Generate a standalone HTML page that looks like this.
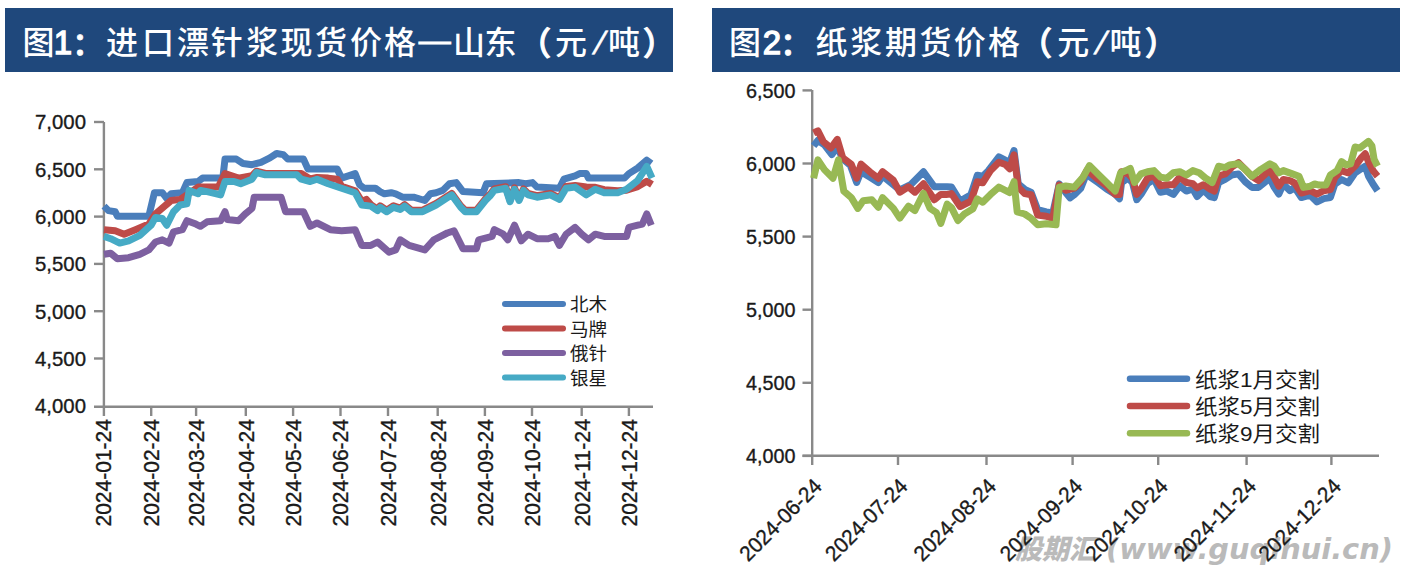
<!DOCTYPE html>
<html><head><meta charset="utf-8"><title>chart</title>
<style>
html,body{margin:0;padding:0;background:#fff;width:1412px;height:580px;overflow:hidden}
svg{display:block}
.t{font-family:"Liberation Sans","Noto Sans CJK SC",sans-serif;fill:#fff;font-size:32px;font-weight:500}
.yl{font-family:"Liberation Sans",sans-serif;font-size:20.5px;fill:#1a1a1a;stroke:#1a1a1a;stroke-width:.35}
.xl{font-family:"Liberation Sans",sans-serif;font-size:21.5px;fill:#1a1a1a;stroke:#1a1a1a;stroke-width:.35}
.lg{font-family:"Liberation Sans","Noto Sans CJK SC",sans-serif;fill:#1a1a1a}
.wm{font-family:"DejaVu Sans","Noto Sans CJK SC",sans-serif;font-weight:900;font-style:italic;fill:#bababa}
</style></head><body>
<svg width="1412" height="580" viewBox="0 0 1412 580">

<rect x="5" y="8" width="668" height="64" fill="#1f487c"/>
<rect x="712" y="8" width="688" height="64" fill="#1f487c"/>
<text x="38.6" y="54" text-anchor="middle" class="t">图</text>
<text x="63.0" y="53.6" text-anchor="middle" class="t" style="font-size:33px;font-weight:400" stroke="#fff" stroke-width="1.3">1</text>
<text x="72.0" y="55" class="t" stroke="#fff" stroke-width="0.8">：</text>
<text x="122.0" y="54" text-anchor="middle" class="t">进</text>
<text x="158.0" y="54" text-anchor="middle" class="t">口</text>
<text x="193.0" y="54" text-anchor="middle" class="t">漂</text>
<text x="226.8" y="54" text-anchor="middle" class="t">针</text>
<text x="262.2" y="54" text-anchor="middle" class="t">浆</text>
<text x="296.4" y="54" text-anchor="middle" class="t">现</text>
<text x="331.0" y="54" text-anchor="middle" class="t">货</text>
<text x="366.0" y="54" text-anchor="middle" class="t">价</text>
<text x="400.0" y="54" text-anchor="middle" class="t">格</text>
<text x="434.7" y="51" text-anchor="middle" class="t" stroke="#fff" stroke-width="0.9">—</text>
<text x="469.0" y="54" text-anchor="middle" class="t">山</text>
<text x="500.5" y="54" text-anchor="middle" class="t">东</text>
<text x="519.0" y="55" class="t" stroke="#fff" stroke-width="1.1">（</text>
<text x="571.0" y="54" text-anchor="middle" class="t">元</text>
<text transform="translate(596.5,54) skewX(-17)" text-anchor="middle" class="t" stroke="#fff" stroke-width="0.6">/</text>
<text x="624.0" y="54" text-anchor="middle" class="t">吨</text>
<text x="643.0" y="55" class="t" stroke="#fff" stroke-width="1.1">）</text>
<text x="745.0" y="54" text-anchor="middle" class="t">图</text>
<text x="772.0" y="53.6" text-anchor="middle" class="t" style="font-size:33px;font-weight:400" stroke="#fff" stroke-width="1.3">2</text>
<text x="780.0" y="55" class="t" stroke="#fff" stroke-width="0.8">：</text>
<text x="831.5" y="54" text-anchor="middle" class="t">纸</text>
<text x="866.3" y="54" text-anchor="middle" class="t">浆</text>
<text x="901.0" y="54" text-anchor="middle" class="t">期</text>
<text x="935.5" y="54" text-anchor="middle" class="t">货</text>
<text x="969.8" y="54" text-anchor="middle" class="t">价</text>
<text x="1004.0" y="54" text-anchor="middle" class="t">格</text>
<text x="1020.0" y="55" class="t" stroke="#fff" stroke-width="1.1">（</text>
<text x="1073.3" y="54" text-anchor="middle" class="t">元</text>
<text transform="translate(1098.0,54) skewX(-17)" text-anchor="middle" class="t" stroke="#fff" stroke-width="0.6">/</text>
<text x="1125.5" y="54" text-anchor="middle" class="t">吨</text>
<text x="1145.0" y="55" class="t" stroke="#fff" stroke-width="1.1">）</text>
<g class="wm" font-size="27.5"><text x="1015" y="559" textLength="81" lengthAdjust="spacingAndGlyphs">股期汇</text><text x="1106" y="559" textLength="287" lengthAdjust="spacingAndGlyphs">(www.guqihui.cn)</text></g>
<g stroke="#898989" stroke-width="2.4" fill="none">
<line x1="103.9" y1="122" x2="103.9" y2="416"/>
<line x1="94" y1="406.7" x2="653" y2="406.7"/>
<line x1="94" y1="122.0" x2="104" y2="122.0"/>
<line x1="94" y1="169.3" x2="104" y2="169.3"/>
<line x1="94" y1="216.6" x2="104" y2="216.6"/>
<line x1="94" y1="263.9" x2="104" y2="263.9"/>
<line x1="94" y1="311.2" x2="104" y2="311.2"/>
<line x1="94" y1="358.5" x2="104" y2="358.5"/>
<line x1="151.2" y1="406" x2="151.2" y2="416"/>
<line x1="196.1" y1="406" x2="196.1" y2="416"/>
<line x1="245.8" y1="406" x2="245.8" y2="416"/>
<line x1="293.1" y1="406" x2="293.1" y2="416"/>
<line x1="340.5" y1="406" x2="340.5" y2="416"/>
<line x1="388" y1="406" x2="388" y2="416"/>
<line x1="437.7" y1="406" x2="437.7" y2="416"/>
<line x1="484.9" y1="406" x2="484.9" y2="416"/>
<line x1="532" y1="406" x2="532" y2="416"/>
<line x1="581.7" y1="406" x2="581.7" y2="416"/>
<line x1="628.9" y1="406" x2="628.9" y2="416"/>
</g>
<text x="35" y="129.2" textLength="51" lengthAdjust="spacingAndGlyphs" class="yl">7,000</text>
<text x="35" y="176.5" textLength="51" lengthAdjust="spacingAndGlyphs" class="yl">6,500</text>
<text x="35" y="223.9" textLength="51" lengthAdjust="spacingAndGlyphs" class="yl">6,000</text>
<text x="35" y="271.2" textLength="51" lengthAdjust="spacingAndGlyphs" class="yl">5,500</text>
<text x="35" y="318.5" textLength="51" lengthAdjust="spacingAndGlyphs" class="yl">5,000</text>
<text x="35" y="365.8" textLength="51" lengthAdjust="spacingAndGlyphs" class="yl">4,500</text>
<text x="35" y="413.2" textLength="51" lengthAdjust="spacingAndGlyphs" class="yl">4,000</text>
<text transform="translate(111.2,419) rotate(-90)" text-anchor="end" textLength="107.5" lengthAdjust="spacingAndGlyphs" class="xl">2024-01-24</text>
<text transform="translate(159.0,419) rotate(-90)" text-anchor="end" textLength="107.5" lengthAdjust="spacingAndGlyphs" class="xl">2024-02-24</text>
<text transform="translate(203.9,419) rotate(-90)" text-anchor="end" textLength="107.5" lengthAdjust="spacingAndGlyphs" class="xl">2024-03-24</text>
<text transform="translate(253.6,419) rotate(-90)" text-anchor="end" textLength="107.5" lengthAdjust="spacingAndGlyphs" class="xl">2024-04-24</text>
<text transform="translate(300.9,419) rotate(-90)" text-anchor="end" textLength="107.5" lengthAdjust="spacingAndGlyphs" class="xl">2024-05-24</text>
<text transform="translate(348.3,419) rotate(-90)" text-anchor="end" textLength="107.5" lengthAdjust="spacingAndGlyphs" class="xl">2024-06-24</text>
<text transform="translate(395.8,419) rotate(-90)" text-anchor="end" textLength="107.5" lengthAdjust="spacingAndGlyphs" class="xl">2024-07-24</text>
<text transform="translate(445.5,419) rotate(-90)" text-anchor="end" textLength="107.5" lengthAdjust="spacingAndGlyphs" class="xl">2024-08-24</text>
<text transform="translate(492.7,419) rotate(-90)" text-anchor="end" textLength="107.5" lengthAdjust="spacingAndGlyphs" class="xl">2024-09-24</text>
<text transform="translate(539.8,419) rotate(-90)" text-anchor="end" textLength="107.5" lengthAdjust="spacingAndGlyphs" class="xl">2024-10-24</text>
<text transform="translate(589.5,419) rotate(-90)" text-anchor="end" textLength="107.5" lengthAdjust="spacingAndGlyphs" class="xl">2024-11-24</text>
<text transform="translate(636.7,419) rotate(-90)" text-anchor="end" textLength="107.5" lengthAdjust="spacingAndGlyphs" class="xl">2024-12-24</text>
<g stroke="#898989" stroke-width="2.4" fill="none">
<line x1="812.2" y1="90" x2="812.2" y2="465"/>
<line x1="802.5" y1="455.8" x2="1379" y2="455.8"/>
<line x1="802.5" y1="90.4" x2="812" y2="90.4"/>
<line x1="802.5" y1="163.5" x2="812" y2="163.5"/>
<line x1="802.5" y1="236.6" x2="812" y2="236.6"/>
<line x1="802.5" y1="309.7" x2="812" y2="309.7"/>
<line x1="802.5" y1="382.8" x2="812" y2="382.8"/>
<line x1="802.5" y1="455.9" x2="812" y2="455.9"/>
<line x1="898" y1="455" x2="898" y2="465"/>
<line x1="986.5" y1="455" x2="986.5" y2="465"/>
<line x1="1072.6" y1="455" x2="1072.6" y2="465"/>
<line x1="1158.2" y1="455" x2="1158.2" y2="465"/>
<line x1="1246.6" y1="455" x2="1246.6" y2="465"/>
<line x1="1331.4" y1="455" x2="1331.4" y2="465"/>
</g>
<text x="746" y="97.6" textLength="49.5" lengthAdjust="spacingAndGlyphs" class="yl">6,500</text>
<text x="746" y="170.7" textLength="49.5" lengthAdjust="spacingAndGlyphs" class="yl">6,000</text>
<text x="746" y="243.8" textLength="49.5" lengthAdjust="spacingAndGlyphs" class="yl">5,500</text>
<text x="746" y="316.9" textLength="49.5" lengthAdjust="spacingAndGlyphs" class="yl">5,000</text>
<text x="746" y="390.0" textLength="49.5" lengthAdjust="spacingAndGlyphs" class="yl">4,500</text>
<text x="746" y="463.1" textLength="49.5" lengthAdjust="spacingAndGlyphs" class="yl">4,000</text>
<text transform="translate(823.2,487.5) rotate(-45)" text-anchor="end" textLength="106" lengthAdjust="spacingAndGlyphs" class="xl">2024-06-24</text>
<text transform="translate(909.0,487.5) rotate(-45)" text-anchor="end" textLength="106" lengthAdjust="spacingAndGlyphs" class="xl">2024-07-24</text>
<text transform="translate(997.5,487.5) rotate(-45)" text-anchor="end" textLength="106" lengthAdjust="spacingAndGlyphs" class="xl">2024-08-24</text>
<text transform="translate(1083.6,487.5) rotate(-45)" text-anchor="end" textLength="106" lengthAdjust="spacingAndGlyphs" class="xl">2024-09-24</text>
<text transform="translate(1169.2,487.5) rotate(-45)" text-anchor="end" textLength="106" lengthAdjust="spacingAndGlyphs" class="xl">2024-10-24</text>
<text transform="translate(1257.6,487.5) rotate(-45)" text-anchor="end" textLength="106" lengthAdjust="spacingAndGlyphs" class="xl">2024-11-24</text>
<text transform="translate(1342.4,487.5) rotate(-45)" text-anchor="end" textLength="106" lengthAdjust="spacingAndGlyphs" class="xl">2024-12-24</text>
<polyline points="104.0,206.1 108.5,210.6 115.2,211.7 117.4,216.2 148.8,216.2 154.4,192.7 162.3,192.7 166.7,198.3 171.2,193.8 182.4,192.7 186.9,182.6 198.1,181.5 202.6,178.1 222.8,178.1 225.0,159.1 236.3,159.1 243.0,163.5 252.0,164.7 260.9,162.4 269.9,157.9 276.6,153.5 283.3,154.6 287.8,159.1 303.5,159.1 308.0,169.1 337.2,169.1 341.6,178.1 348.4,175.9 355.1,173.6 359.6,184.8 364.1,188.2 375.3,188.2 380.0,191.6 384.5,193.8 391.2,192.7 395.7,193.8 402.4,197.2 413.6,197.2 424.8,200.5 430.4,193.8 436.1,192.7 442.8,190.4 449.5,183.7 456.2,182.6 463.0,191.6 483.1,192.7 486.5,183.7 519.0,182.6 525.7,183.7 532.5,182.6 537.0,187.1 559.4,188.2 563.9,179.2 575.1,175.9 579.6,173.6 586.3,173.6 588.5,178.1 624.4,178.1 628.9,173.6 637.8,168.0 646.8,160.2 651.3,163.5" fill="none" stroke="#4a7ebb" stroke-width="7" stroke-linejoin="round" stroke-linecap="butt"/>
<polyline points="104.0,229.7 115.2,230.8 124.1,234.2 135.4,229.7 148.8,224.1 155.5,213.9 171.2,200.5 180.2,199.4 186.9,195.0 198.1,187.1 218.3,187.1 225.0,173.6 238.5,178.1 252.0,175.6 256.4,171.2 265.4,173.5 296.8,173.5 301.3,173.6 310.2,179.0 317.0,177.5 328.2,178.1 337.2,179.2 341.6,186.2 355.1,190.7 361.8,201.4 366.3,199.4 370.8,204.6 377.5,209.1 380.0,205.8 386.7,210.2 393.5,205.8 400.2,208.0 404.7,204.6 411.4,210.2 422.6,210.2 436.1,203.5 451.7,193.4 460.7,205.8 465.2,210.2 476.4,210.2 485.4,199.0 489.9,194.6 494.3,188.9 505.6,186.7 510.0,200.2 514.5,187.8 519.0,199.0 523.5,188.9 528.0,193.4 537.0,195.7 550.4,193.4 559.4,197.9 566.1,186.5 575.1,185.5 586.3,187.0 595.2,187.3 604.2,189.7 617.7,190.7 626.6,190.2 637.8,186.6 646.8,181.2 652.0,184.5" fill="none" stroke="#be4b48" stroke-width="7" stroke-linejoin="round" stroke-linecap="butt"/>
<polyline points="104.0,254.3 110.7,253.2 117.4,258.8 128.6,257.7 139.8,254.3 148.8,249.9 155.5,242.0 162.3,239.8 169.0,243.1 173.5,231.9 182.4,229.7 186.9,220.7 195.9,224.1 200.4,226.3 207.1,221.8 220.6,220.7 225.0,211.7 227.3,219.6 238.5,220.7 245.2,214.0 252.0,208.4 254.2,197.2 281.1,197.2 285.6,211.7 303.5,211.7 310.2,226.3 317.0,223.0 330.4,229.7 341.6,230.8 355.1,229.7 361.8,245.4 370.8,245.4 377.5,242.0 389.0,252.1 395.7,249.9 400.2,239.8 409.1,245.4 424.8,249.9 433.8,239.8 447.3,233.0 454.0,230.8 463.0,248.7 476.4,248.7 478.7,239.8 492.1,236.4 494.3,229.7 503.3,234.2 507.8,239.8 514.5,225.2 521.3,240.9 528.0,234.2 537.0,238.7 548.2,238.7 554.9,236.4 559.4,245.4 566.1,234.2 575.1,227.4 581.8,234.2 588.5,239.8 595.2,234.2 604.2,236.4 626.6,236.4 628.9,227.4 637.8,225.2 642.3,224.1 646.8,214.0 651.3,225.2" fill="none" stroke="#7d60a0" stroke-width="7" stroke-linejoin="round" stroke-linecap="butt"/>
<polyline points="104.0,236.4 110.7,238.7 119.7,243.1 128.6,240.9 139.8,235.3 151.1,225.2 155.5,217.4 162.3,218.5 166.7,225.2 173.5,211.7 180.2,205.0 186.9,203.9 189.2,190.4 198.1,193.8 200.4,190.4 207.1,191.6 220.6,194.9 225.0,181.5 234.0,181.5 240.7,183.7 252.0,179.2 256.4,172.5 265.4,174.8 296.8,174.8 301.3,179.2 310.2,181.5 317.0,179.2 328.2,183.7 341.6,188.2 355.1,192.7 361.8,205.0 370.8,206.1 377.5,210.6 380.0,207.3 386.7,211.7 393.5,207.3 400.2,209.5 404.7,206.1 411.4,211.7 422.6,211.7 436.1,205.0 451.7,194.9 460.7,207.3 465.2,211.7 476.4,211.7 485.4,200.5 489.9,196.1 494.3,190.4 505.6,188.2 510.0,201.7 514.5,189.3 519.0,200.5 523.5,190.4 528.0,194.9 537.0,197.2 550.4,194.9 559.4,199.4 566.1,188.2 575.1,187.1 586.3,194.9 595.2,189.3 604.2,192.7 617.7,192.7 626.6,189.3 637.8,180.4 646.8,166.4 652.0,178.0" fill="none" stroke="#46aac5" stroke-width="7" stroke-linejoin="round" stroke-linecap="butt"/>
<polyline points="813.6,145.9 817.9,140.5 824.4,144.8 831.9,154.5 837.3,146.9 842.7,158.8 850.3,165.3 856.7,182.5 861.0,171.7 869.7,177.1 878.3,182.5 882.6,176.0 893.4,184.7 899.8,190.0 910.6,184.7 923.5,171.7 934.3,186.8 947.2,186.8 951.5,187.1 960.1,201.1 970.9,194.7 977.3,175.3 982.7,176.3 988.1,170.9 998.9,156.9 1005.3,160.2 1009.7,162.3 1014.0,150.5 1018.3,183.9 1024.7,189.3 1031.2,192.5 1037.7,209.7 1046.3,211.9 1052.8,213.0 1059.2,183.9 1065.7,192.5 1070.0,197.9 1074.3,194.7 1080.8,188.2 1087.2,172.0 1090.4,177.1 1097.9,182.5 1106.6,189.0 1115.2,194.4 1119.5,198.7 1121.6,182.5 1128.1,178.2 1132.4,182.5 1136.7,199.7 1141.0,194.4 1147.5,183.6 1154.0,179.3 1160.4,192.2 1166.9,191.1 1173.4,194.4 1179.8,185.7 1186.3,191.1 1192.8,189.0 1197.1,196.5 1203.5,190.0 1210.0,196.5 1214.3,197.6 1218.6,182.5 1225.1,179.4 1231.7,175.0 1238.5,173.9 1245.2,181.8 1251.9,187.4 1258.6,187.4 1265.4,181.8 1269.9,178.4 1274.3,187.4 1278.8,194.1 1283.3,184.0 1290.0,190.7 1294.5,187.4 1301.3,197.5 1310.2,195.2 1317.0,202.0 1323.7,198.6 1330.4,197.5 1334.9,184.0 1341.6,179.5 1348.3,182.9 1355.1,172.8 1361.8,168.3 1365.2,166.1 1368.5,176.2 1373.0,184.0 1377.5,190.7" fill="none" stroke="#4a7ebb" stroke-width="7" stroke-linejoin="round" stroke-linecap="butt"/>
<polyline points="813.6,132.9 817.9,130.8 823.3,141.6 830.9,148.0 837.3,139.4 842.7,157.7 851.3,164.2 856.7,178.2 861.0,164.2 869.7,171.7 878.3,178.2 882.6,171.7 893.4,180.3 899.8,192.2 908.4,186.8 914.9,192.2 923.5,183.6 930.0,193.3 934.3,199.7 940.8,194.4 947.2,194.4 951.5,193.6 960.1,206.5 970.9,201.1 977.3,181.7 982.7,182.8 990.3,170.9 998.9,162.3 1005.3,164.5 1009.7,168.8 1014.0,154.8 1018.3,187.1 1024.7,193.6 1031.2,194.7 1037.7,215.1 1046.3,216.2 1052.8,218.4 1059.2,185.0 1065.7,190.3 1074.3,188.2 1080.8,181.7 1087.2,169.9 1090.4,172.8 1097.9,179.3 1106.6,185.7 1115.2,194.4 1119.5,194.4 1121.6,171.7 1128.1,173.9 1132.4,178.2 1136.7,194.4 1141.0,189.0 1147.5,178.2 1154.0,176.0 1160.4,185.7 1166.9,184.7 1173.4,184.7 1179.8,177.1 1186.3,182.5 1192.8,183.6 1197.1,187.9 1203.5,184.7 1210.0,189.0 1214.3,191.1 1218.6,176.0 1225.1,174.0 1231.7,167.2 1238.5,162.7 1245.2,169.4 1251.9,176.2 1258.6,180.6 1265.4,173.9 1269.9,170.6 1274.3,177.3 1278.8,186.2 1283.3,179.5 1290.0,180.6 1294.5,182.9 1301.3,193.0 1310.2,190.7 1317.0,194.1 1323.7,190.7 1330.4,189.6 1334.9,177.3 1341.6,170.6 1348.3,172.8 1355.1,166.1 1361.8,157.1 1365.2,153.7 1368.5,161.6 1373.0,170.6 1377.5,176.2" fill="none" stroke="#be4b48" stroke-width="7" stroke-linejoin="round" stroke-linecap="butt"/>
<polyline points="813.6,178.2 817.9,159.9 824.4,169.6 833.0,178.2 838.4,159.9 843.8,191.1 851.3,197.6 857.8,208.4 863.2,200.8 871.8,199.7 878.3,207.3 882.6,197.6 893.4,208.4 899.8,218.1 908.4,206.2 914.9,210.5 923.5,193.3 930.0,208.4 936.5,212.7 940.8,223.4 947.2,204.1 951.5,207.6 957.9,220.5 964.4,214.0 973.0,208.7 977.3,199.0 982.7,202.2 990.3,194.7 998.9,187.1 1005.3,190.3 1009.7,192.5 1014.0,181.7 1017.2,211.9 1024.7,214.0 1031.2,218.4 1037.7,224.8 1046.3,223.8 1056.0,224.8 1059.2,187.1 1065.7,186.0 1074.3,187.1 1082.9,177.4 1089.4,165.6 1097.9,173.9 1106.6,182.5 1115.2,191.1 1120.6,172.8 1126.0,170.6 1130.3,168.5 1134.6,182.5 1141.0,173.9 1147.5,171.7 1154.0,170.6 1160.4,177.1 1166.9,178.2 1173.4,172.8 1179.8,171.7 1186.3,175.0 1192.8,170.6 1199.2,172.8 1205.7,178.2 1212.2,182.5 1218.6,166.3 1225.1,167.6 1229.5,164.9 1238.5,163.8 1245.2,169.4 1251.9,176.2 1260.9,169.4 1269.9,163.8 1274.3,166.1 1278.8,172.8 1283.3,170.6 1292.3,173.9 1299.0,176.2 1303.5,187.4 1310.2,186.2 1314.7,184.0 1319.2,185.1 1325.9,185.1 1330.4,175.0 1337.1,170.6 1341.6,161.6 1346.1,164.9 1350.6,163.8 1355.1,147.0 1359.6,148.1 1364.0,144.8 1368.5,141.4 1371.9,145.9 1374.1,159.3 1377.5,166.1" fill="none" stroke="#98b954" stroke-width="7" stroke-linejoin="round" stroke-linecap="butt"/>
<line x1="505" y1="304.0" x2="563" y2="304.0" stroke="#4a7ebb" stroke-width="6" stroke-linecap="round"/>
<text x="570" y="311.0" class="lg" font-size="18" textLength="37" lengthAdjust="spacingAndGlyphs">北木</text>
<line x1="505" y1="328.5" x2="563" y2="328.5" stroke="#be4b48" stroke-width="6" stroke-linecap="round"/>
<text x="570" y="335.5" class="lg" font-size="18" textLength="37" lengthAdjust="spacingAndGlyphs">马牌</text>
<line x1="505" y1="353.0" x2="563" y2="353.0" stroke="#7d60a0" stroke-width="6" stroke-linecap="round"/>
<text x="570" y="360.0" class="lg" font-size="18" textLength="37" lengthAdjust="spacingAndGlyphs">俄针</text>
<line x1="505" y1="377.5" x2="563" y2="377.5" stroke="#46aac5" stroke-width="6" stroke-linecap="round"/>
<text x="570" y="384.5" class="lg" font-size="18" textLength="37" lengthAdjust="spacingAndGlyphs">银星</text>
<line x1="1130" y1="378.8" x2="1187" y2="378.8" stroke="#4a7ebb" stroke-width="6.5" stroke-linecap="round"/>
<text x="1195" y="386.8" class="lg" font-size="21" textLength="125" lengthAdjust="spacingAndGlyphs">纸浆1月交割</text>
<line x1="1130" y1="406.0" x2="1187" y2="406.0" stroke="#be4b48" stroke-width="6.5" stroke-linecap="round"/>
<text x="1195" y="414.0" class="lg" font-size="21" textLength="125" lengthAdjust="spacingAndGlyphs">纸浆5月交割</text>
<line x1="1130" y1="433.2" x2="1187" y2="433.2" stroke="#98b954" stroke-width="6.5" stroke-linecap="round"/>
<text x="1195" y="441.2" class="lg" font-size="21" textLength="125" lengthAdjust="spacingAndGlyphs">纸浆9月交割</text>
</svg></body></html>
